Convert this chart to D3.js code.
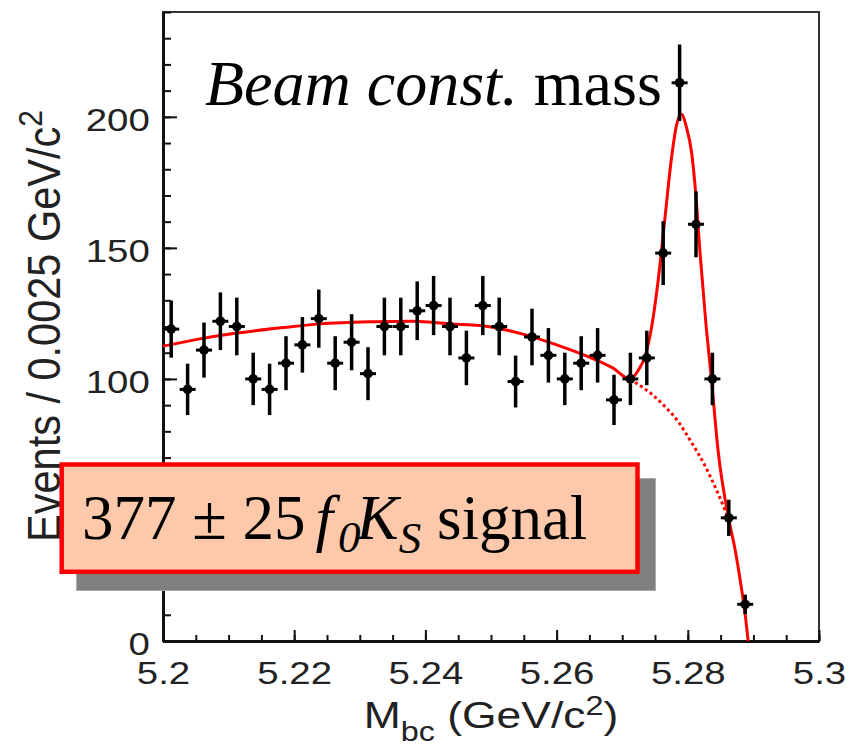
<!DOCTYPE html>
<meta charset="utf-8">
<head>
  <title>Beam constrained mass</title>
</head>

<style>
body {
  margin: 0;
  background: #fff;
}
.tick text {
  font-family: "Liberation Sans", Arial, sans-serif;
  font-size: 32px;
  fill: #222;
}
.serif {
  font-family: "Liberation Serif", "Times New Roman", serif;
  fill: #000;
}
</style>

<body>
  <svg width="849" height="744"></svg>

  <script src="https://cdnjs.cloudflare.com/ajax/libs/d3/7.8.5/d3.min.js"></script>

  <script>
  // bin centres (bin width 0.0025 GeV/c^2) and counts
  var binCenters = [5.20125, 5.20375, 5.20625, 5.20875, 5.21125, 5.21375, 5.21625, 5.21875,
    5.22125, 5.22375, 5.22625, 5.22875, 5.23125, 5.23375, 5.23625, 5.23875,
    5.24125, 5.24375, 5.24625, 5.24875, 5.25125, 5.25375, 5.25625, 5.25875,
    5.26125, 5.26375, 5.26625, 5.26875, 5.27125, 5.27375, 5.27625, 5.27875,
    5.28125, 5.28375, 5.28625, 5.28875];
  var counts = [119, 96, 111, 122, 120, 100, 96, 106, 113, 123, 106, 114, 102, 120, 120, 126,
    128, 120, 108, 128, 120, 99, 116, 109, 100, 106, 109, 92, 100, 108, 148, 213,
    159, 100, 47, 14];
  var errors = [10.9, 9.8, 10.5, 11.0, 11.0, 10.0, 9.8, 10.3, 10.6, 11.1, 10.3, 10.7, 10.1, 11.0, 11.0, 11.2,
    11.3, 11.0, 10.4, 11.3, 11.0, 9.9, 10.8, 10.4, 10.0, 10.3, 10.4, 9.6, 10.0, 10.4, 12.2, 14.6,
    12.6, 10.0, 6.9, 3.7];

  // total fit (solid)
  var fitX = [5.200, 5.205, 5.211, 5.218, 5.224, 5.232, 5.238, 5.244, 5.250, 5.255, 5.260, 5.265,
    5.2685, 5.2712, 5.2725, 5.2735, 5.2745, 5.2755, 5.2765, 5.2775, 5.2783, 5.2790,
    5.2798, 5.2806, 5.2812, 5.2819, 5.2828, 5.2836, 5.2846, 5.2862, 5.2872, 5.2880, 5.2887, 5.2892];
  var fitY = [112.5, 115, 117.4, 119.5, 121, 121.8, 122, 121, 119.8, 117, 113, 108.3,
    104.3, 100, 103.5, 108.8, 120, 138, 161, 184, 197, 201,
    196, 186, 171, 147, 120, 100, 73, 47, 35, 23, 11, 0];

  // background component (dotted), only shown under the peak
  var bgX = [5.2712, 5.2724, 5.2745, 5.2765, 5.2786, 5.2805, 5.2826, 5.2843, 5.2860];
  var bgY = [100, 98, 94.2, 89.5, 83.5, 76, 67, 58, 48];

  var xMajor = [5.2, 5.22, 5.24, 5.26, 5.28, 5.3];
  var xLabels = ['5.2', '5.22', '5.24', '5.26', '5.28', '5.3'];
  var yMajor = [0, 50, 100, 150, 200];

  var svg = d3.select('svg');
  var plotL = 163, plotR = 819, plotT = 12, plotB = 641;

  var x = d3.scaleLinear().domain([5.2, 5.3]).range([plotL, plotR]);
  var y = d3.scaleLinear().domain([0, 240]).range([plotB, plotT]);

  var plot = svg.append('g');

  // frame
  plot.append('rect')
    .attr('x', plotL).attr('y', plotT)
    .attr('width', plotR - plotL).attr('height', plotB - plotT)
    .attr('fill', 'none')
    .attr('stroke', '#333')
    .attr('stroke-width', 2);

  // minor ticks
  plot.append('g')
    .attr('transform', 'translate(0,' + plotB + ')')
    .call(d3.axisBottom(x).tickValues(x.ticks(20)).tickSize(-6).tickFormat(''))
    .call(function(g) { g.select('.domain').remove(); })
    .selectAll('line').attr('stroke-width', 2).attr('stroke', '#111');
  plot.append('g')
    .attr('transform', 'translate(' + plotL + ',0)')
    .call(d3.axisLeft(y).tickValues(y.ticks(24)).tickSize(-8).tickFormat(''))
    .call(function(g) { g.select('.domain').remove(); })
    .selectAll('line').attr('stroke-width', 2).attr('stroke', '#111');

  // major ticks + labels
  var xAxis = plot.append('g')
    .attr('transform', 'translate(0,' + plotB + ')')
    .call(d3.axisBottom(x).tickValues(xMajor).tickSizeInner(-11).tickSizeOuter(0).tickPadding(20)
      .tickFormat(function(d, i) { return xLabels[i]; }));
  xAxis.select('.domain').attr('stroke', '#111').attr('stroke-width', 3);
  xAxis.selectAll('line').attr('stroke', '#111').attr('stroke-width', 2);
  xAxis.selectAll('text').attr('transform', 'scale(1.2,1)');

  var yAxis = plot.append('g')
    .attr('transform', 'translate(' + plotL + ',0)')
    .call(d3.axisLeft(y).tickValues(yMajor).tickSizeInner(-14).tickSizeOuter(0).tickPadding(11));
  yAxis.select('.domain').attr('stroke', '#111').attr('stroke-width', 3);
  yAxis.selectAll('line').attr('stroke', '#111').attr('stroke-width', 2);
  yAxis.selectAll('text').attr('dy', 13.5).attr('transform', 'scale(1.2,1)');

  // axis titles
  var xt = svg.append('text')
    .attr('transform', 'translate(491,728) scale(1.2,1)')
    .attr('text-anchor', 'middle')
    .style('font-family', '"Liberation Sans", Arial, sans-serif')
    .style('font-size', '37px')
    .attr('fill', '#222');
  xt.append('tspan').text('M');
  xt.append('tspan').attr('dy', 13).style('font-size', '27px').text('bc');
  xt.append('tspan').attr('dy', -13).text(' (GeV/c');
  xt.append('tspan').attr('dy', -13).style('font-size', '27px').text('2');
  xt.append('tspan').attr('dy', 13).text(')');

  var yt = svg.append('text')
    .attr('transform', 'translate(60,326) scale(1.12,1) rotate(-90)')
    .attr('text-anchor', 'middle')
    .style('font-family', '"Liberation Sans", Arial, sans-serif')
    .style('font-size', '41.5px')
    .attr('fill', '#222');
  yt.append('tspan').text('Events / 0.0025 GeV/c');
  yt.append('tspan').attr('dy', -16).style('font-size', '30px').text('2');

  // fit curves
  var line = d3.line()
    .x(function(d) { return x(d[0]); })
    .y(function(d) { return y(d[1]); })
    .curve(d3.curveMonotoneX);

  plot.append('path')
    .datum(d3.zip(bgX, bgY))
    .attr('d', line)
    .attr('fill', 'none')
    .attr('stroke', '#ff0000')
    .attr('stroke-width', 3)
    .attr('stroke-dasharray', '3,3');

  plot.append('path')
    .datum(d3.zip(fitX, fitY))
    .attr('d', line)
    .attr('fill', 'none')
    .attr('stroke', '#ff0000')
    .attr('stroke-width', 3);

  // data points with error bars
  var pts = plot.selectAll('g.pt')
    .data(d3.zip(binCenters, counts, errors))
    .enter()
    .append('g')
    .classed('pt', true)
    .attr('transform', function(d) { return 'translate(' + x(d[0]) + ',' + y(d[1]) + ')'; });

  pts.append('line')
    .attr('y1', function(d) { return y(d[1] + d[2]) - y(d[1]); })
    .attr('y2', function(d) { return y(d[1] - d[2]) - y(d[1]); })
    .attr('stroke', '#000')
    .attr('stroke-width', 3.5);
  pts.append('line')
    .attr('x1', -8).attr('x2', 8)
    .attr('stroke', '#000')
    .attr('stroke-width', 3);
  pts.append('circle')
    .attr('r', 4.8)
    .attr('fill', '#000');

  // title
  var title = svg.append('text')
    .attr('class', 'serif')
    .attr('x', 205).attr('y', 105)
    .style('font-size', '64px');
  title.append('tspan').style('font-style', 'italic').text('Beam const.');
  title.append('tspan').text(' mass');

  // result box
  svg.append('rect')
    .attr('x', 76.5).attr('y', 478.5)
    .attr('width', 579).attr('height', 112)
    .attr('fill', '#808080')
    .attr('stroke', '#aaa')
    .attr('stroke-width', 1);
  svg.append('rect')
    .attr('x', 61.7).attr('y', 464.5)
    .attr('width', 575.8).attr('height', 107.3)
    .attr('fill', '#fdc9aa')
    .attr('stroke', '#ff0000')
    .attr('stroke-width', 4.5);

  var box = svg.append('text')
    .attr('class', 'serif')
    .attr('x', 82).attr('y', 539)
    .style('font-size', '63px');
  box.append('tspan').text('377 \u00b1 25');
  box.append('tspan').attr('dx', 10).style('font-style', 'italic').text('f');
  box.append('tspan').attr('dx', 5).attr('dy', 13).style('font-style', 'italic').style('font-size', '45px').text('0');
  box.append('tspan').attr('dx', -4).attr('dy', -13).style('font-style', 'italic').text('K');
  box.append('tspan').attr('dy', 14).style('font-style', 'italic').style('font-size', '45px').text('S');
  box.append('tspan').attr('dy', -14).text(' signal');
  </script>
</body>
</html>
